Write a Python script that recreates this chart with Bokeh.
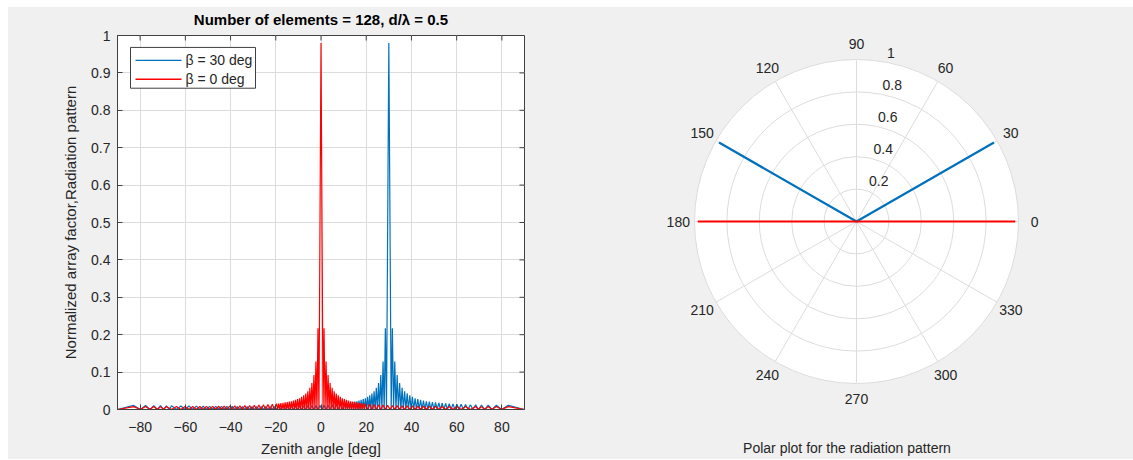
import numpy as np
from bokeh.plotting import figure
from bokeh.layouts import row
from bokeh.models import FixedTicker, LinearAxis, NumeralTickFormatter, Range1d, Label
from bokeh.core.properties import value
from bokeh.embed import file_html
from bokeh.resources import INLINE

FONT = "Liberation Sans"
TXT = "#262626"
AXC = "#404040"
BLUE = "#0072BD"
RED = "#FF0000"
BG = "#f0f0f0"
GRID = "#dcdcdc"

# ---------------- data ----------------
x_ticks = [-80, -60, -40, -20, 0, 20, 40, 60, 80]
y_ticks = [0, 0.1, 0.2, 0.3, 0.4, 0.5, 0.6, 0.7, 0.8, 0.9, 1]
series_labels = ["\u03b2 = 30 deg", "\u03b2 = 0 deg"]
series_colors = [BLUE, RED]

red_deg = [
    -90, -82.83, -79.87, -77.57, -75.65, -73.94, -72.39, -70.97, -69.64, -68.40,
    -66.08, -63.93, -61.97, -60.13, -58.38, -56.71, -55.12, -53.59, -52.10, -50.66,
    -49.27, -47.92, -46.60, -45.31, -44.05, -42.82, -41.61, -40.42, -39.26, -38.11,
    -36.98, -35.87, -34.77, -33.69, -32.62, -31.56, -30.52, -29.49, -28.46, -27.45,
    -26.44, -25.45, -24.46, -23.48, -22.51, -21.54, -20.58, -19.63, -19.16, -18.68,
    -18.21, -17.74, -17.27, -16.80, -16.33, -15.87, -15.40, -14.94, -14.48, -14.02,
    -13.56, -13.10, -12.64, -12.18, -11.71, -11.26, -10.80, -10.35, -9.89, -9.44,
    -8.99, -8.54, -8.08, -7.63, -7.18, -6.73, -6.28, -5.83, -5.38, -4.93,
    -4.48, -4.03, -3.58, -3.13, -2.69, -2.24, -1.79, -1.34, -0.90, 0,
    0.90, 1.34, 1.79, 2.24, 2.69, 3.13, 3.58, 4.03, 4.48, 4.93,
    5.38, 5.83, 6.28, 6.73, 7.18, 7.63, 8.08, 8.54, 8.99, 9.44,
    9.89, 10.35, 10.80, 11.26, 11.71, 12.18, 12.64, 13.10, 13.56, 14.02,
    14.48, 14.94, 15.40, 15.87, 16.33, 16.80, 17.27, 17.74, 18.21, 18.68,
    19.16, 19.63, 20.58, 21.54, 22.51, 23.48, 24.46, 25.45, 26.44, 27.45,
    28.46, 29.49, 30.52, 31.56, 32.62, 33.69, 34.77, 35.87, 36.98, 38.11,
    39.26, 40.42, 41.61, 42.82, 44.05, 45.31, 46.60, 47.92, 49.27, 50.66,
    52.10, 53.59, 55.12, 56.71, 58.38, 60.13, 61.97, 63.93, 66.08, 68.40,
    69.64, 70.97, 72.39, 73.94, 75.65, 77.57, 79.87, 82.83, 90,
]
red_af = [
    0, .0078, 0, .0078, 0, .0078, 0, .0078, 0, .0079,
    0, .0079, 0, .0080, 0, .0081, 0, .0082, 0, .0083,
    0, .0085, 0, .0087, 0, .0089, 0, .0092, 0, .0095,
    0, .0098, 0, .0102, 0, .0107, 0, .0112, 0, .0118,
    0, .0125, 0, .0133, 0, .0143, 0, .0155, 0, .016,
    0, .017, 0, .018, 0, .019, 0, .020, 0, .021,
    0, .022, 0, .024, 0, .026, 0, .028, 0, .030,
    0, .034, 0, .038, 0, .043, 0, .049, 0, .058,
    0, .071, 0, .092, 0, .128, 0, .217, 0, .98,
    0, .217, 0, .128, 0, .092, 0, .071, 0, .058,
    0, .049, 0, .043, 0, .038, 0, .034, 0, .030,
    0, .028, 0, .026, 0, .024, 0, .022, 0, .021,
    0, .020, 0, .019, 0, .018, 0, .017, 0, .016,
    0, .0155, 0, .0143, 0, .0133, 0, .0125, 0, .0118,
    0, .0112, 0, .0107, 0, .0102, 0, .0098, 0, .0095,
    0, .0092, 0, .0089, 0, .0087, 0, .0085, 0, .0083,
    0, .0082, 0, .0081, 0, .0080, 0, .0079, 0, .0079,
    0, .0078, 0, .0078, 0, .0078, 0, .0078, 0,
]

blue_deg = [
    -90, -82.83, -79.86, -77.57, -75.64, -73.94, -72.39, -70.97, -69.64, -68.40,
    -67.22, -66.08, -63.93, -61.97, -60.13, -58.38, -56.71, -55.12, -53.59, -52.10,
    -50.66, -49.27, -47.92, -46.60, -45.31, -44.05, -42.82, -41.61, -40.42, -39.26,
    -38.11, -36.98, -35.87, -34.77, -33.69, -32.62, -31.56, -30.52, -29.49, -28.46,
    -27.45, -26.44, -25.45, -24.46, -23.48, -22.51, -21.54, -20.58, -19.63, -18.68,
    -17.74, -16.80, -15.87, -14.94, -14.02, -13.10, -12.18, -11.26, -10.35, -9.44,
    -8.54, -7.63, -6.73, -5.83, -4.93, -4.03, -3.13, -2.24, -1.34, -0.45,
    0.45, 1.34, 2.24, 3.13, 4.03, 4.93, 5.83, 6.73, 7.63, 8.54,
    9.44, 10.35, 10.81, 11.26, 11.72, 12.18, 12.64, 13.10, 13.56, 14.02,
    14.48, 14.94, 15.40, 15.87, 16.33, 16.80, 17.27, 17.74, 18.21, 18.68,
    19.16, 19.63, 20.11, 20.58, 21.06, 21.54, 22.02, 22.51, 22.99, 23.48,
    23.97, 24.46, 24.95, 25.45, 25.94, 26.44, 26.94, 27.45, 27.95, 28.46,
    28.97, 30, 31.04, 31.56, 32.09, 32.62, 33.15, 33.69, 34.23, 34.77,
    35.32, 35.87, 36.42, 36.98, 37.54, 38.11, 38.68, 39.26, 39.84, 40.42,
    41.01, 41.61, 42.21, 42.82, 43.43, 44.05, 44.68, 45.31, 45.95, 46.60,
    47.26, 47.92, 48.59, 49.27, 49.96, 50.66, 51.38, 52.10, 52.84, 53.59,
    54.34, 55.12, 55.90, 56.71, 57.54, 58.38, 59.25, 60.13, 61.04, 61.97,
    62.94, 63.93, 64.98, 66.08, 67.22, 68.40, 69.64, 70.97, 72.39, 73.94,
    75.64, 77.57, 79.86, 82.83, 90,
]
blue_af = [
    0, .0109, 0, .0107, 0, .0104, 0, .0102, 0, .0100,
    0, .0098, 0, .0095, 0, .0092, 0, .0089, 0, .0087,
    0, .0085, 0, .0083, 0, .0082, 0, .0081, 0, .0080,
    0, .0079, 0, .0079, 0, .0078, 0, .0078, 0, .0078,
    0, .0078, 0, .0079, 0, .0079, 0, .0080, 0, .0081,
    0, .0083, 0, .0084, 0, .0086, 0, .0088, 0, .0090,
    0, .0093, 0, .0096, 0, .0100, 0, .0104, 0, .0109,
    0, .0115, 0, .0121, 0, .0129, 0, .0138, 0, .0149,
    0, .016, 0, .017, 0, .018, 0, .019, 0, .020,
    0, .021, 0, .022, 0, .024, 0, .026, 0, .028,
    0, .030, 0, .034, 0, .038, 0, .043, 0, .049,
    0, .058, 0, .071, 0, .092, 0, .128, 0, .217,
    0, .98, 0, .217, 0, .128, 0, .092, 0, .071,
    0, .058, 0, .049, 0, .043, 0, .038, 0, .034,
    0, .030, 0, .028, 0, .026, 0, .024, 0, .022,
    0, .021, 0, .020, 0, .019, 0, .018, 0, .017,
    0, .016, 0, .0155, 0, .0149, 0, .0143, 0, .0138,
    0, .0133, 0, .0129, 0, .0125, 0, .0121, 0, .0118,
    0, .0115, 0, .0112, 0,
]
assert len(red_deg) == len(red_af)
assert len(blue_deg) == len(blue_af)

# polar plot: beam directions (deg) and radii, going through the centre
polar_blue_deg = [150, 150, 30]
polar_blue_r = [0.98, 0.0, 0.98]
polar_red_deg = [180, 180, 0]
polar_red_r = [0.98, 0.0, 0.98]
ring_values = [0.2, 0.4, 0.6, 0.8, 1.0]
ring_labels = ["0.2", "0.4", "0.6", "0.8", "1"]
spoke_deg = [0, 30, 60, 90, 120, 150]
angle_label_deg = [0, 30, 60, 90, 120, 150, 180, 210, 240, 270, 300, 330]

# ---------------- layout constants ----------------
BT, BB = 26, 50
FIG_H = 452
LW, RW = 552, 573
BL, BR = 109, 36
FW = LW - BL - BR
FH = FIG_H - BT - BB
X0, X1, Y0, Y1 = -90, 90, 0, 1


def fx(px):  # frame pixel (from left) -> data x
    return X0 + px * (X1 - X0) / FW


def fy(py):  # frame pixel (from top) -> data y
    return Y1 - py * (Y1 - Y0) / FH


# ---------------- left: array factor ----------------
p = figure(width=LW, height=FIG_H, x_range=Range1d(X0, X1), y_range=Range1d(Y0, Y1),
           output_backend="svg", toolbar_location=None, title=None,
           min_border_left=BL, min_border_right=BR, min_border_top=BT, min_border_bottom=BB,
           background_fill_color="white", border_fill_color=BG,
           outline_line_color=AXC)

xt = FixedTicker(ticks=x_ticks)
yt = FixedTicker(ticks=y_ticks)
bottom = p.xaxis[0]
left = p.yaxis[0]
bottom.ticker = xt
left.ticker = yt
left.formatter = NumeralTickFormatter(format="0.[0]")
bottom.axis_label = "Zenith angle [deg]"
left.axis_label = "Normalized array factor,Radiation pattern"

for ax in [bottom, left]:
    ax.axis_line_color = AXC
    ax.major_tick_line_color = AXC
    ax.major_tick_in = 5
    ax.major_tick_out = 0
    ax.minor_tick_line_color = None
    ax.major_label_text_font = FONT
    ax.major_label_text_font_size = "14px"
    ax.major_label_text_color = TXT
    ax.axis_label_text_font = FONT
    ax.axis_label_text_font_size = "15px"
    ax.axis_label_text_font_style = "normal"
    ax.axis_label_text_color = TXT
bottom.major_label_standoff = 12
bottom.axis_label_standoff = 5
left.major_label_standoff = 7
left.axis_label_standoff = 9

# title drawn as the label of a tick-less axis above the box
title_top = LinearAxis(ticker=FixedTicker(ticks=[]), axis_label="Number of elements = 128, d/\u03bb = 0.5",
                       axis_line_color=None, major_tick_line_color=None, minor_tick_line_color=None,
                       major_tick_in=0, major_tick_out=0, major_label_standoff=0,
                       axis_label_standoff=8, axis_label_text_font=FONT,
                       axis_label_text_font_size="15px", axis_label_text_font_style="bold",
                       axis_label_text_color="#000000")
p.add_layout(title_top, "above")

p.xgrid.ticker = xt
p.ygrid.ticker = yt
p.grid.grid_line_color = GRID
p.grid.grid_line_width = 1

p.line(blue_deg, blue_af, line_color=BLUE, line_width=1.2)
p.line(red_deg, red_af, line_color=RED, line_width=1.2)

# inward ticks on the top and right edges of the box
tick_dy = 5 * (Y1 - Y0) / FH
tick_dx = 5 * (X1 - X0) / FW
p.segment(x0=x_ticks, y0=[Y1] * len(x_ticks), x1=x_ticks, y1=[Y1 - tick_dy] * len(x_ticks),
          line_color=AXC, line_width=1)
p.segment(x0=[X1] * len(y_ticks), y0=y_ticks, x1=[X1 - tick_dx] * len(y_ticks), y1=y_ticks,
          line_color=AXC, line_width=1)

# legend box (MATLAB style), placed in frame pixels
LBX0, LBX1, LBY0, LBY1 = 13, 138, 12, 53
row_py = [25, 44]
p.quad(left=[fx(LBX0)], right=[fx(LBX1)], top=[fy(LBY0)], bottom=[fy(LBY1)],
       fill_color="white", line_color=AXC, line_width=1)
for py, col in zip(row_py, series_colors):
    p.line(x=[fx(18), fx(64)], y=[fy(py), fy(py)], line_color=col, line_width=1.4)
p.text(x=[fx(68)] * 2, y=[fy(v) for v in row_py], text=series_labels,
       text_font=value(FONT), text_font_size="14px", text_color=TXT,
       text_align="left", text_baseline="middle")

# ---------------- right: polar plot ----------------
S = 162.0                   # px per unit radius
cx, cy = 296.0, 213.0 - BT  # centre in frame pixels (from left / from top)
q = figure(width=RW, height=FIG_H,
           x_range=Range1d(-cx / S, (RW - cx) / S), y_range=Range1d(-(FH - cy) / S, cy / S),
           output_backend="svg", toolbar_location=None, title=None,
           x_axis_location=None, y_axis_location=None,
           min_border_left=0, min_border_right=0, min_border_top=BT, min_border_bottom=BB,
           background_fill_color=BG, border_fill_color=BG, outline_line_color=None)
q.xgrid.visible = False
q.ygrid.visible = False

title_axis = LinearAxis(ticker=FixedTicker(ticks=[]), axis_label="Polar plot for the radiation pattern",
                        axis_line_color=None, major_tick_line_color=None, minor_tick_line_color=None,
                        major_tick_in=0, major_tick_out=0, major_label_standoff=0,
                        axis_label_standoff=30, axis_label_text_font=FONT,
                        axis_label_text_font_size="14px", axis_label_text_font_style="normal",
                        axis_label_text_color=TXT)
q.add_layout(title_axis, "below")

rmax = ring_values[-1]
q.circle(x=[0], y=[0], radius=rmax, fill_color="white", line_color=None)
q.circle(x=[0] * len(ring_values), y=[0] * len(ring_values), radius=ring_values,
         fill_color=None, line_color=GRID, line_width=1)
sa = np.deg2rad(spoke_deg)
q.segment(x0=rmax * np.cos(sa), y0=rmax * np.sin(sa), x1=-rmax * np.cos(sa), y1=-rmax * np.sin(sa),
          line_color=GRID, line_width=1)

bt = np.deg2rad(polar_blue_deg)
q.line(np.array(polar_blue_r) * np.cos(bt), np.array(polar_blue_r) * np.sin(bt),
       line_color=BLUE, line_width=2.2)
rt = np.deg2rad(polar_red_deg)
q.line(np.array(polar_red_r) * np.cos(rt), np.array(polar_red_r) * np.sin(rt),
       line_color=RED, line_width=2)

for a in angle_label_deg:
    ar = np.deg2rad(a)
    q.add_layout(Label(x=1.1 * rmax * np.cos(ar), y=1.1 * rmax * np.sin(ar), text=str(a),
                       text_font=FONT, text_font_size="14px", text_color=TXT,
                       text_align="center", text_baseline="middle"))

ra = np.deg2rad(82)
for rv, rl in zip(ring_values, ring_labels):
    q.add_layout(Label(x=rv * np.cos(ra), y=rv * np.sin(ra), text=rl,
                       text_font=FONT, text_font_size="14px", text_color=TXT,
                       text_align="left", text_baseline="bottom", x_offset=8, y_offset=4))

layout = row(p, q, margin=(7, 0, 1, 8), styles={"background-color": BG})
open("out.html", "w").write(file_html(layout, INLINE))
